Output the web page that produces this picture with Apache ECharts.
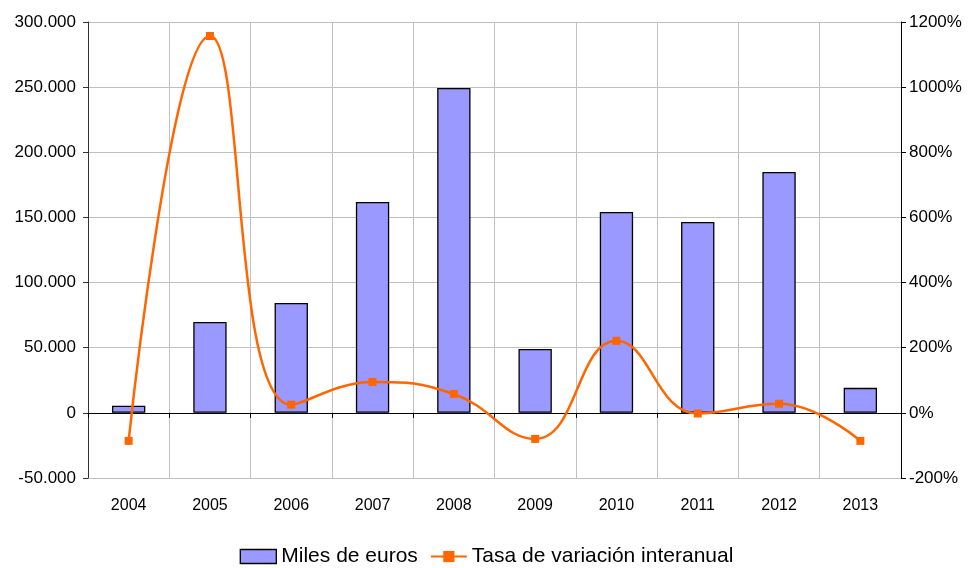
<!DOCTYPE html>
<html>
<head>
<meta charset="utf-8">
<script src="https://cdn.jsdelivr.net/npm/echarts@6/dist/echarts.min.js"></script>
<style>
  html, body { margin: 0; padding: 0; background: #fff; }
  #chart { width: 973px; height: 568px; }
</style>
</head>
<body>
<div id="chart"></div>
<script>
// datos
const years = ["2004", "2005", "2006", "2007", "2008", "2009", "2010", "2011", "2012", "2013"];
const milesEuros = [5400, 69800, 84400, 161900, 249400, 49100, 154200, 146500, 184900, 19200];
const tasaVariacion = [-86, 1157, 25, 95, 58, -80, 221, -2, 28, -86];

const fmtMiles = v => {
  if (v === 0) return "0";
  const s = Math.abs(v).toString().replace(/\B(?=(\d{3})+(?!\d))/g, ".");
  return (v < 0 ? "-" : "") + s;
};

const font = "Liberation Sans, Arial, sans-serif";
let myChart = echarts.init(document.getElementById("chart"));

myChart.setOption({
  animation: false,
  textStyle: { fontFamily: font },
  legend: {
    top: 541,
    left: "center",
    itemGap: 12,
    itemWidth: 36,
    itemHeight: 14,
    textStyle: { fontSize: 21, color: "#000", fontFamily: font },
    data: [
      { name: "Miles de euros", icon: "rect", itemStyle: { borderColor: "#000", borderWidth: 1.3 } },
      { name: "Tasa de variación interanual" }
    ]
  },
  grid: { left: 88, right: 72, top: 22, bottom: 90 },
  xAxis: [
    {
      type: "category",
      data: years,
      position: "bottom",
      axisLine: { onZero: false, show: false },
      axisTick: { show: false },
      axisLabel: { color: "#000", fontSize: 16, margin: 20 },
      splitLine: { show: true, lineStyle: { color: "#c0c0c0", width: 1 } }
    },
    {
      type: "category",
      data: years,
      position: "bottom",
      axisLine: { onZero: true, onZeroAxisIndex: 0, lineStyle: { color: "#000", width: 1 } },
      axisTick: { show: true, length: 5, lineStyle: { color: "#000" } },
      axisLabel: { show: false },
      splitLine: { show: false }
    }
  ],
  yAxis: [
    {
      type: "value",
      min: -50000,
      max: 300000,
      interval: 50000,
      axisLine: { show: true, lineStyle: { color: "#333" } },
      axisTick: { show: true, length: 5, lineStyle: { color: "#333" } },
      axisLabel: { color: "#000", fontSize: 17, margin: 12, formatter: fmtMiles },
      splitLine: { show: true, lineStyle: { color: "#c0c0c0", width: 1 } }
    },
    {
      type: "value",
      min: -200,
      max: 1200,
      interval: 200,
      position: "right",
      axisLine: { show: true, lineStyle: { color: "#000" } },
      axisTick: { show: true, length: 5, lineStyle: { color: "#000" } },
      axisLabel: { color: "#000", fontSize: 17, margin: 8, formatter: v => v + "%" },
      splitLine: { show: false }
    }
  ],
  series: [
    {
      name: "Miles de euros",
      type: "bar",
      xAxisIndex: 0,
      yAxisIndex: 0,
      data: milesEuros,
      barWidth: "41%",
      itemStyle: { color: "#9999ff", borderColor: "#000", borderWidth: 1.3 },
      z: 2
    },
    {
      name: "Tasa de variación interanual",
      type: "line",
      xAxisIndex: 0,
      yAxisIndex: 1,
      data: tasaVariacion,
      smooth: 0.45,
      symbol: "rect",
      symbolSize: 8,
      lineStyle: { color: "#ff6600", width: 2.5 },
      itemStyle: { color: "#ff6600" },
      z: 5
    }
  ]
});

window.onresize = function () {
  myChart.resize();
};
</script>
</body>
</html>
